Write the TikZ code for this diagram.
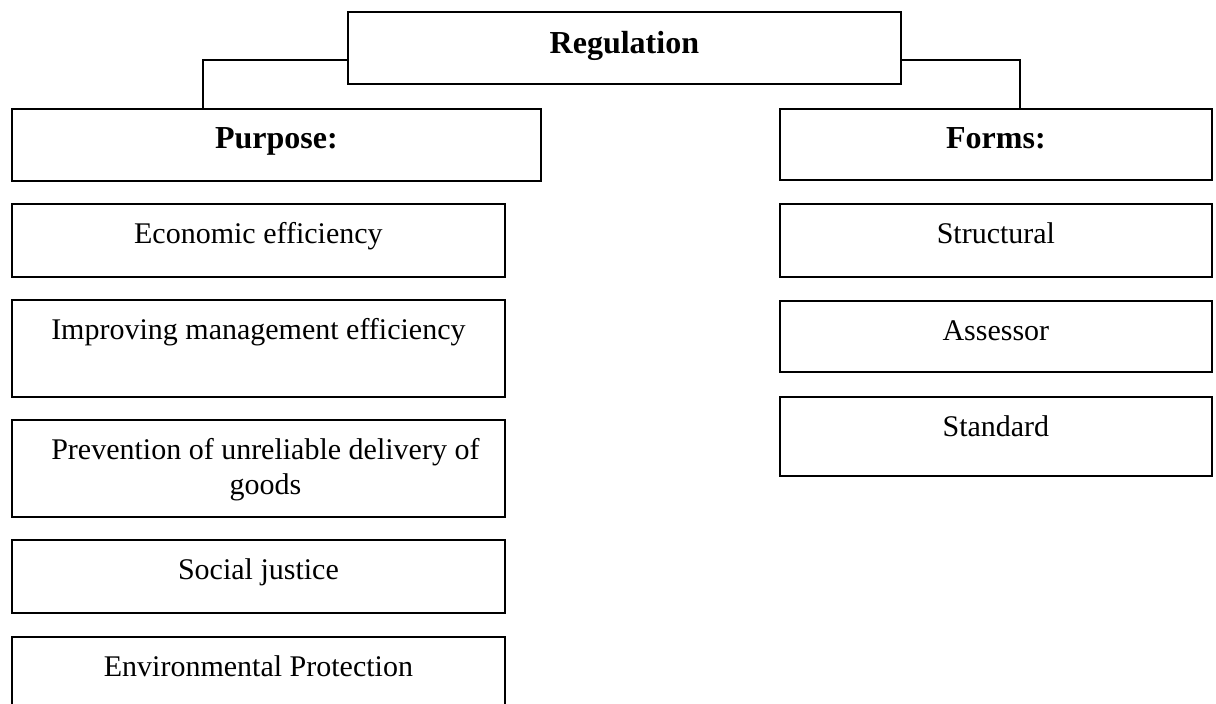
\documentclass[tikz,border=0pt]{standalone}
\usepackage{fontspec}
\setmainfont{Liberation Serif}
\usetikzlibrary{calc}
\tikzset{
  box/.style={draw,line width=1.8pt,anchor=north west,inner xsep=0pt,inner ysep=0pt,minimum width=#1,text height=40pt,font=\fontsize{30}{34.5}\selectfont},
  box/.default={493pt},
  hd/.style={box=#1,font=\bfseries\fontsize{32}{36}\selectfont},
  con/.style={line width=1.3pt},
}

\begin{document}
\begin{tikzpicture}[x=1pt,y=-1pt]
 \useasboundingbox (0,0) rectangle (1216,704);
 \clip (0,0) rectangle (1216,704);
 % heads
 \node[hd=553pt,text height=42pt,text depth=30pt] (reg) at (347,11) {Regulation};
 \node[hd=529pt,text depth=32pt] (pur) at (11,108) {Purpose:};
 \node[hd=432pt,text depth=31pt] (frm) at (779,108) {Forms:};
 \draw[con] ([yshift=-49pt]reg.north west) -| ([xshift=192pt]pur.north west);
 \draw[con] ([yshift=-49pt]reg.north east) -| ([xshift=241pt]frm.north west);
 % purpose items
 \foreach \n/\y/\h/\t in {eco/203/73/{Economic efficiency},imp/299/97/{Improving management efficiency},prv/419/97/{\parbox[t]{493pt}{\centering\hspace*{14pt}Prevention of unreliable delivery of\\\hspace*{14pt}goods}},soc/539/73/{Social justice},env/636/97/{Environmental Protection}}{
  \pgfmathsetmacro{\d}{\h-40}
  \node[box,text depth=\d pt] (\n) at (11,\y) {\t};
 }
 % forms items
 \foreach \n/\y/\h/\t in {str/203/73/Structural,ass/300/71/Assessor,std/396/79/Standard}{
  \pgfmathsetmacro{\d}{\h-40}
  \node[box=432pt,text depth=\d pt] (\n) at (779,\y) {\t};
 }
\end{tikzpicture}
\end{document}
